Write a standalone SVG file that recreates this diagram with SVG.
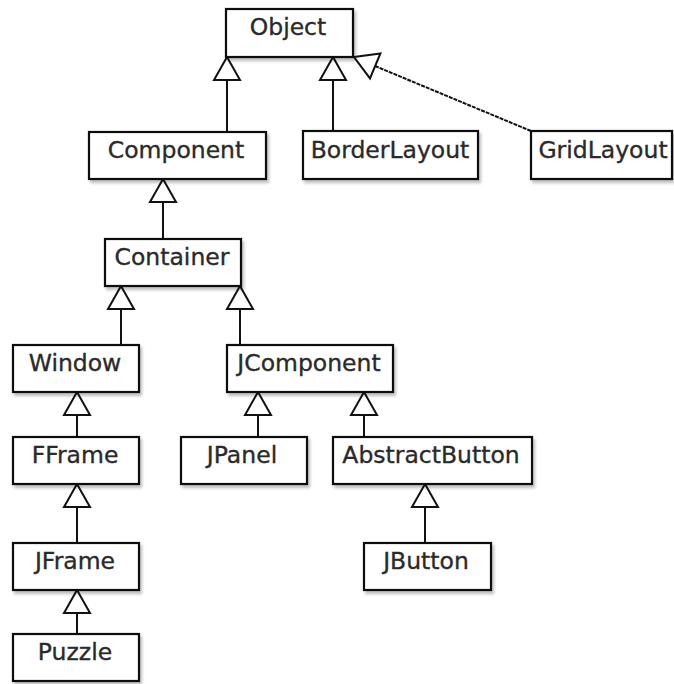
<svg xmlns="http://www.w3.org/2000/svg" width="674" height="684" viewBox="0 0 674 684">
<defs>
<filter id="sh" x="-10%" y="-10%" width="130%" height="140%">
<feDropShadow dx="2" dy="3" stdDeviation="1.5" flood-color="#000" flood-opacity="0.25"/>
</filter>
</defs>
<style>
.box{fill:#fff;stroke:#111;stroke-width:2.2;filter:url(#sh)}
.lbl{font-family:"DejaVu Sans","Liberation Sans",sans-serif;font-size:23.5px;fill:#2a2a2a;stroke:#2a2a2a;stroke-width:0.35;text-anchor:middle}
.ln{stroke:#111;stroke-width:2;fill:none}
.tri{fill:#fff;stroke:#111;stroke-width:2;stroke-linejoin:miter}
</style>
<rect width="674" height="684" fill="#fff"/>
<g id="connectors">
<line class="ln" x1="227" y1="132" x2="227" y2="80"/>
<polygon class="tri" points="227,57 214,80 240,80"/>
<line class="ln" x1="333" y1="131" x2="333" y2="80"/>
<polygon class="tri" points="333,57 320,80 346,80"/>
<line class="ln" x1="375" y1="66" x2="531" y2="131" stroke-dasharray="4,1"/>
<polygon class="tri" points="354,57 380.4,53.4 370,78.4"/>
<line class="ln" x1="163" y1="239" x2="163" y2="202"/>
<polygon class="tri" points="163,179 150,202 176,202"/>
<line class="ln" x1="121" y1="345" x2="121" y2="309"/>
<polygon class="tri" points="121,286 108,309 134,309"/>
<line class="ln" x1="240" y1="345" x2="240" y2="309"/>
<polygon class="tri" points="240,286 227,309 253,309"/>
<line class="ln" x1="77" y1="437" x2="77" y2="415"/>
<polygon class="tri" points="77,392 64,415 90,415"/>
<line class="ln" x1="77" y1="543" x2="77" y2="507"/>
<polygon class="tri" points="77,484 64,507 90,507"/>
<line class="ln" x1="77" y1="634" x2="77" y2="613"/>
<polygon class="tri" points="77,590 64,613 90,613"/>
<line class="ln" x1="258" y1="437" x2="258" y2="415"/>
<polygon class="tri" points="258,392 245,415 271,415"/>
<line class="ln" x1="364" y1="437" x2="364" y2="415"/>
<polygon class="tri" points="364,392 351,415 377,415"/>
<line class="ln" x1="425" y1="543" x2="425" y2="507"/>
<polygon class="tri" points="425,484 412,507 438,507"/>
</g>
<g id="Object"><rect class="box" x="226" y="9" width="127" height="48"/><text class="lbl" x="288" y="35">Object</text></g>
<g id="Component"><rect class="box" x="89" y="132" width="177" height="47"/><text class="lbl" x="176" y="158">Component</text></g>
<g id="BorderLayout"><rect class="box" x="303" y="131" width="175" height="48"/><text class="lbl" x="390" y="158">BorderLayout</text></g>
<g id="GridLayout"><rect class="box" x="531" y="131" width="141" height="48"/><text class="lbl" x="603" y="158">GridLayout</text></g>
<g id="Container"><rect class="box" x="105" y="239" width="136" height="47"/><text class="lbl" x="172" y="265">Container</text></g>
<g id="Window"><rect class="box" x="13" y="345" width="126" height="47"/><text class="lbl" x="75" y="371">Window</text></g>
<g id="JComponent"><rect class="box" x="227" y="345" width="166" height="47"/><text class="lbl" x="309" y="371">JComponent</text></g>
<g id="FFrame"><rect class="box" x="13" y="437" width="126" height="47"/><text class="lbl" x="75" y="463">FFrame</text></g>
<g id="JPanel"><rect class="box" x="181" y="437" width="126" height="47"/><text class="lbl" x="242" y="463">JPanel</text></g>
<g id="AbstractButton"><rect class="box" x="333" y="437" width="199" height="47"/><text class="lbl" x="431" y="463">AbstractButton</text></g>
<g id="JFrame"><rect class="box" x="13" y="543" width="126" height="47"/><text class="lbl" x="75" y="569">JFrame</text></g>
<g id="JButton"><rect class="box" x="364" y="543" width="127" height="47"/><text class="lbl" x="426" y="569">JButton</text></g>
<g id="Puzzle"><rect class="box" x="13" y="634" width="126" height="47"/><text class="lbl" x="75" y="660">Puzzle</text></g>
</svg>
